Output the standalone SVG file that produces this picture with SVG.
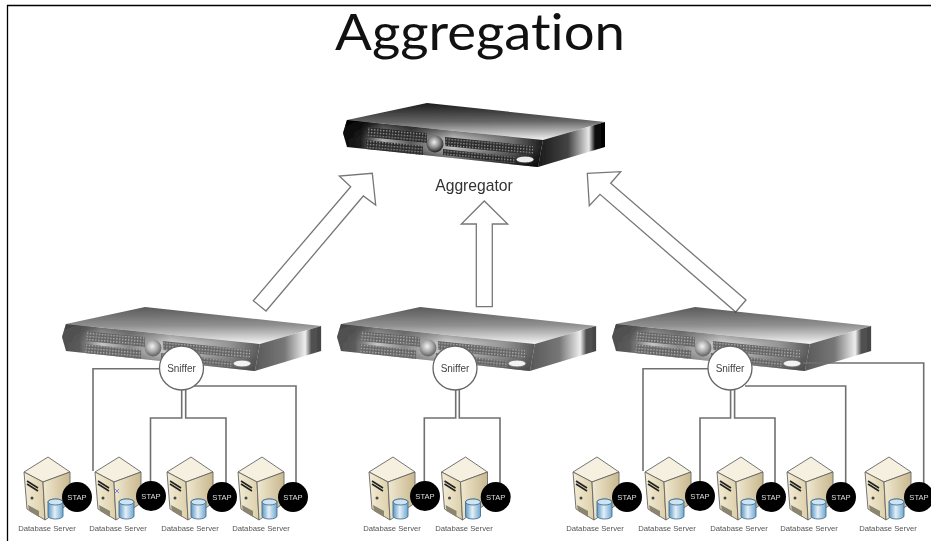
<svg xmlns="http://www.w3.org/2000/svg" width="931" height="541" viewBox="0 0 931 541">
<style>
text{font-family:"Liberation Sans",Arial,sans-serif;text-anchor:middle}
.arrow{fill:#fff;stroke:#777;stroke-width:1.3}
.wire{fill:none;stroke:#707070;stroke-width:1.6}
.lbl{font-size:7.7px;fill:#555;filter:url(#soft)}
.stap{font-size:7.6px;fill:#ddd;filter:url(#soft)}
.snf{font-size:10px;fill:#444;filter:url(#soft)}
.node{fill:#fff;stroke:#666;stroke-width:1.3}
</style>
<defs>
<filter id="soft" x="-10%" y="-10%" width="120%" height="120%"><feGaussianBlur stdDeviation="0.35"/></filter>
<filter id="blur" x="-5%" y="-5%" width="110%" height="110%"><feGaussianBlur stdDeviation="0.6"/></filter>
<linearGradient id="topv" x1="0.48" y1="0" x2="0.52" y2="1">
<stop offset="0" stop-color="#1c1c1c"/><stop offset=".5" stop-color="#666"/><stop offset="1" stop-color="#f0f0f0"/>
</linearGradient>
<linearGradient id="front" x1="0" y1="0" x2="1" y2="0">
<stop offset="0" stop-color="#0c0c0c"/><stop offset=".09" stop-color="#222"/><stop offset=".2" stop-color="#c4c4c4"/><stop offset=".34" stop-color="#666"/><stop offset=".55" stop-color="#d8d8d8"/><stop offset=".85" stop-color="#777"/><stop offset="1" stop-color="#1c1c1c"/>
</linearGradient>
<linearGradient id="band" x1="0" y1="0" x2="0" y2="1">
<stop offset="0" stop-color="#000" stop-opacity=".85"/><stop offset=".4" stop-color="#000" stop-opacity=".1"/><stop offset=".6" stop-color="#000" stop-opacity=".1"/><stop offset="1" stop-color="#000" stop-opacity=".8"/>
</linearGradient>
<linearGradient id="side" x1="0" y1="0" x2="1" y2="0">
<stop offset="0" stop-color="#1a1a1a"/><stop offset=".45" stop-color="#444"/><stop offset=".76" stop-color="#e8e8e8"/><stop offset=".85" stop-color="#111"/><stop offset="1" stop-color="#000"/>
</linearGradient>
<radialGradient id="knob" cx=".45" cy=".4" r=".6"><stop offset="0" stop-color="#eee"/><stop offset=".55" stop-color="#888"/><stop offset="1" stop-color="#222"/></radialGradient>
<pattern id="grille" width="3" height="3" patternUnits="userSpaceOnUse" patternTransform="rotate(5)"><rect width="3" height="3" fill="#2a2a2a"/><rect width="1.4" height="1.4" fill="#9a9a9a"/></pattern>
<linearGradient id="srvF" x1="0" y1="0" x2="1" y2="0"><stop offset="0" stop-color="#f3ecd6"/><stop offset="1" stop-color="#dccfa9"/></linearGradient>
<linearGradient id="srvS" x1="0" y1="0" x2="1" y2="0"><stop offset="0" stop-color="#f0e8cf"/><stop offset="1" stop-color="#c9b88f"/></linearGradient>
<linearGradient id="cyl" x1="0" y1="0" x2="1" y2="0"><stop offset="0" stop-color="#5c97c4"/><stop offset=".45" stop-color="#e4f0f8"/><stop offset="1" stop-color="#6fa6cf"/></linearGradient>
<g id="router" filter="url(#blur)">
<path d="M347 120 427 103 605 122 543 140Z" fill="url(#topv)"/>
<path d="M347 120 543 140 538 167 347 147 343 133Z" fill="url(#front)"/>
<path d="M347 120 543 140 538 167 347 147 343 133Z" fill="url(#band)"/>
<path d="M543 140 605 122 605 147 538 167Z" fill="url(#side)"/>
<circle cx="349" cy="134" r="5" fill="#0c0c0c"/>
<path d="M367 127 427 133 427 143 367 137Z M366 140 423 146 423 155 366 149Z M445 137 533 146 533 155 445 146Z M443 149 515 157 515 163 443 155Z" fill="url(#grille)"/>
<circle cx="435" cy="144" r="8.500" fill="url(#knob)"/>
<ellipse cx="525" cy="159.500" rx="9" ry="3.500" fill="#eee" stroke="#333" stroke-width="1"/>
</g>
<g id="server">
<g filter="url(#soft)">
<path d="M0 15 24 0 46 15 19 25Z" fill="#f5f0df" stroke="#666" stroke-width=".9"/>
<path d="M0 15 19 25 21 63 3 52Z" fill="url(#srvF)" stroke="#666" stroke-width=".9"/>
<path d="M19 25 46 15 46 46 21 63Z" fill="url(#srvS)" stroke="#666" stroke-width=".9"/>
<path d="M3 24 14 31M3 27 14 34" stroke="#222" stroke-width="1.6"/>
<circle cx="8" cy="41" r="1.500" fill="#444"/>
<path d="M4 48 15 54 15 60 5 54Z" fill="#8a8470"/>
</g>
<path d="M24 45a7.500 3 0 0 1 15 0v14a7.500 3 0 0 1-15 0Z" fill="url(#cyl)" stroke="#44708f" stroke-width=".9"/>
<ellipse cx="31.500" cy="45" rx="7.500" ry="3" fill="#cfe3f0" stroke="#44708f" stroke-width=".9"/>
</g>
</defs>
<rect width="931" height="541" fill="#fff"/>
<path d="M7.500 541V5.500H931" fill="none" stroke="#000" stroke-width="1.300"/>
<text x="480" y="50" style="font-family:Lato,'Liberation Sans',sans-serif;font-size:50px;fill:#111;font-variant-ligatures:none" textLength="290" lengthAdjust="spacingAndGlyphs">Aggregation</text>

<g id="connectors">
<path class="arrow" d="M253.300 300.700 350.700 186.700 339.300 176 372.300 173.300 375.700 205 363.300 196 266 311Z"/>
<path class="arrow" d="M476.300 306.700V224H461.300L484.300 201 507.700 224H492.300V306.700Z"/>
<path class="arrow" d="M746 300 610.700 183.300 620.700 171.700 587.300 173.300 589.300 205.700 600 194.300 735.700 312Z"/>
</g>

<g id="aggregator"><use href="#router"/><text x="474" y="191" font-size="15.700" fill="#333" style="filter:url(#soft)">Aggregator</text></g>

<g id="router-1"><use href="#router" transform="matrix(.989 0 0 1 -277.200 204)" opacity=".72"/></g>
<g id="router-2"><use href="#router" transform="matrix(.989 0 0 1 -2.200 204)" opacity=".72"/></g>
<g id="router-3"><use href="#router" transform="matrix(.989 0 0 1 272.800 204)" opacity=".72"/></g>

<g id="wires">
<path class="wire" d="M170 368.700H93V471M181.700 385V418H150.500V484M185.700 385V418H226V484M190 386H296V484"/>
<path class="wire" d="M455.700 385V418H424.300V484M459.300 385V418H500V484"/>
<path class="wire" d="M720 368.700H643V471M730.600 385V418H700V484M734.600 385V418H775V484M745 386H845.700V484M803 363H923.700V484"/>
</g>

<g id="sniffer-1"><circle class="node" cx="181.500" cy="368" r="22"/><text class="snf" x="181.500" y="371.500">Sniffer</text></g>
<g id="sniffer-2"><circle class="node" cx="455" cy="368" r="22"/><text class="snf" x="455" y="371.500">Sniffer</text></g>
<g id="sniffer-3"><circle class="node" cx="730" cy="368" r="22"/><text class="snf" x="730" y="371.500">Sniffer</text></g>

<g id="db-1"><use href="#server" x="24" y="457"/><circle cx="77" cy="497" r="15"/><text class="stap" x="77" y="500">STAP</text><text class="lbl" x="47" y="531">Database Server</text></g>
<g id="db-2"><use href="#server" x="95" y="457"/><path d="M115 489l4 4m0-4l-4 4" stroke="#7a86e0" stroke-width="1"/><circle cx="151" cy="496" r="15"/><text class="stap" x="151" y="499">STAP</text><text class="lbl" x="118" y="531">Database Server</text></g>
<g id="db-3"><use href="#server" x="167" y="457"/><circle cx="222" cy="497" r="15"/><text class="stap" x="222" y="500">STAP</text><text class="lbl" x="190" y="531">Database Server</text></g>
<g id="db-4"><use href="#server" x="238" y="457"/><circle cx="293" cy="497" r="15"/><text class="stap" x="293" y="500">STAP</text><text class="lbl" x="261" y="531">Database Server</text></g>
<g id="db-5"><use href="#server" x="369" y="457"/><circle cx="425" cy="496" r="15"/><text class="stap" x="425" y="499">STAP</text><text class="lbl" x="392" y="531">Database Server</text></g>
<g id="db-6"><use href="#server" x="441.500" y="457"/><circle cx="495.700" cy="497" r="15"/><text class="stap" x="495.700" y="500">STAP</text><text class="lbl" x="464" y="531">Database Server</text></g>
<g id="db-7"><use href="#server" x="573" y="457"/><circle cx="627" cy="497" r="15"/><text class="stap" x="627" y="500">STAP</text><text class="lbl" x="595" y="531">Database Server</text></g>
<g id="db-8"><use href="#server" x="645" y="457"/><circle cx="700" cy="496" r="15"/><text class="stap" x="700" y="499">STAP</text><text class="lbl" x="667" y="531">Database Server</text></g>
<g id="db-9"><use href="#server" x="717" y="457"/><circle cx="771" cy="497" r="15"/><text class="stap" x="771" y="500">STAP</text><text class="lbl" x="739" y="531">Database Server</text></g>
<g id="db-10"><use href="#server" x="787" y="457"/><circle cx="841" cy="497" r="15"/><text class="stap" x="841" y="500">STAP</text><text class="lbl" x="809" y="531">Database Server</text></g>
<g id="db-11"><use href="#server" x="865" y="457"/><circle cx="919" cy="497" r="15"/><text class="stap" x="919" y="500">STAP</text><text class="lbl" x="888" y="531">Database Server</text></g>
</svg>
